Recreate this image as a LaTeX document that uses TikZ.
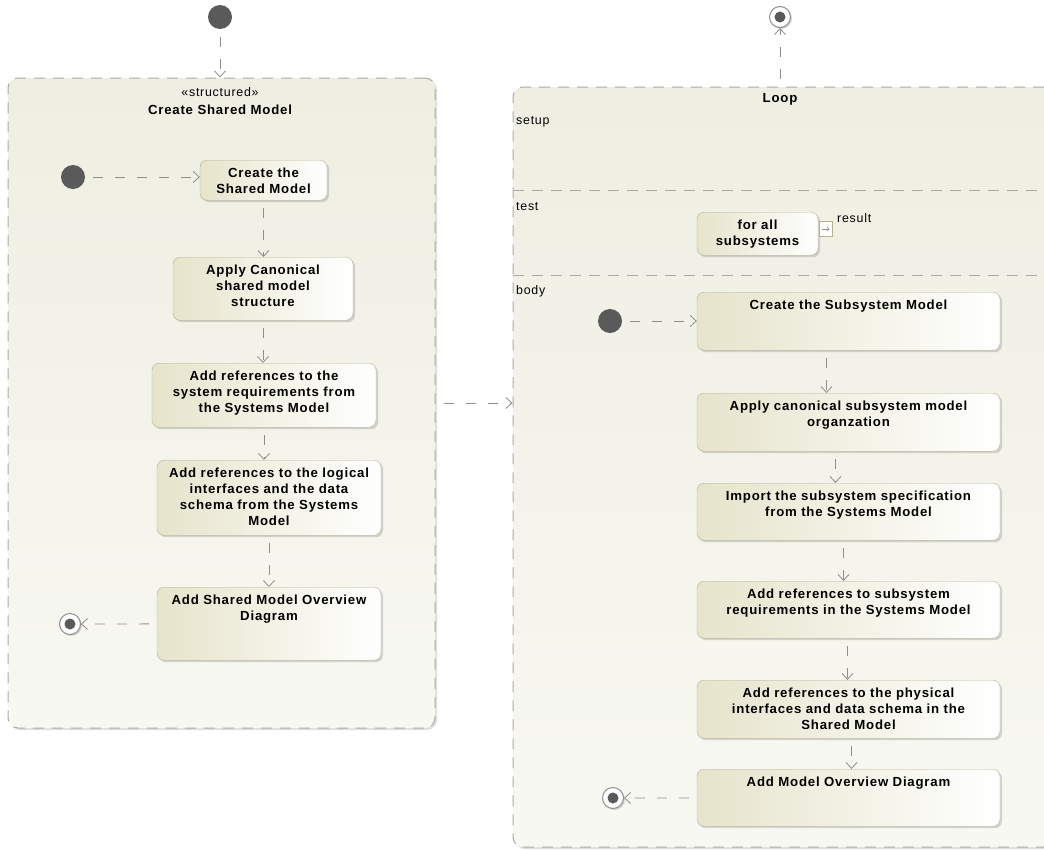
\documentclass[tikz,border=0pt]{standalone}
\usepackage{fontspec}
\setmainfont{Liberation Sans}
\newfontfamily\umlfont[LetterSpace=6]{Liberation Sans}
\usetikzlibrary{arrows.meta,shadows}

\definecolor{actline}{HTML}{B4B28F}
\definecolor{actfill}{HTML}{E6E4CB}
\definecolor{conttop}{HTML}{EFEEE2}
\definecolor{contbot}{HTML}{F8F8F3}
\definecolor{contline}{HTML}{ABABA6}
\definecolor{flowc}{HTML}{8E8E8E}
\definecolor{initc}{HTML}{5A5A5A}

\begin{document}
\begin{tikzpicture}[x=1pt,y=-1pt,
    act/.style={draw=actline,rounded corners=7pt,left color=actfill,right color=white,
      drop shadow={shadow xshift=2pt,shadow yshift=-2pt,opacity=.3},
      font=\umlfont\bfseries\fontsize{13.2}{16}\selectfont,
      align=center,anchor=north,inner xsep=4pt,inner ysep=8pt,text height=9.5pt},
    cont/.style={draw=contline,line width=1pt,dash pattern=on 11pt off 8pt,rounded corners=10pt,
      top color=conttop,bottom color=contbot,inner sep=0pt,
      drop shadow={shadow xshift=2pt,shadow yshift=-2pt,opacity=.25}},
    init/.style={circle,fill=initc,minimum size=24pt,inner sep=0pt},
    fin/.style={circle,draw=flowc,line width=1pt,fill=white,minimum size=21pt,inner sep=0pt,
      drop shadow={shadow xshift=1.5pt,shadow yshift=-1.5pt,opacity=.3},
      path picture={\fill[initc] (path picture bounding box.center) circle (5.5pt);}},
    outpin/.style={draw=actline,fill=white,minimum width=13pt,minimum height=15pt,inner sep=0pt},
    flow/.style={draw=flowc,line width=.8pt,dash pattern=on 10pt off 12pt,dash phase=14pt,
      -{Straight Barb[length=6pt,width=11pt]}},
    lanesep/.style={draw=contline,line width=1pt,dash pattern=on 11pt off 8pt},
    lbl/.style={font=\umlfont\fontsize{12.4}{14}\selectfont,inner sep=0pt},
    ttl/.style={font=\umlfont\bfseries\fontsize{13.2}{15}\selectfont,inner sep=0pt}]

  \path[use as bounding box,fill=white] (0,0) rectangle (1044,849);
  \clip (0,0) rectangle (1044,849);

  % the two activity regions
  \node[cont,minimum width=427pt,minimum height=650pt] (lbox) at (221.5,403) {};
  \node[cont,minimum width=560pt,minimum height=760pt] (loop) at (793,467) {};
  \draw[lanesep] (513,190) -- (1070,190);
  \draw[lanesep] (513,275) -- (1070,275);

  \node[lbl] (stereo) at (220,92) {«structured»};
  \node[ttl] (lname) at (220,110) {Create Shared Model};
  \node[ttl] (loopname) at (780,99) {Loop};
  \node[lbl,anchor=west] (setup) at (516,122) {setup};
  \node[lbl,anchor=west] (test) at (516,207) {test};
  \node[lbl,anchor=west] (body) at (516,291) {body};

  % shared model actions
  \node[act,text width=119pt,text depth=14.5pt] (csm) at (263.5,160) {Create the\\Shared Model};
  \node[act,text width=172pt,text depth=37.5pt] (apply) at (263,257) {Apply Canonical\\shared model\\structure};
  \node[act,text width=216pt,text depth=38.5pt] (sysreq) at (264,363) {Add references to the\\system requirements from\\the Systems Model};
  \node[act,text width=216pt,text depth=49.5pt] (logic) at (269,460) {Add references to the logical\\interfaces and the data\\schema from the Systems\\Model};
  \node[act,text width=216pt,text depth=47.5pt] (shov) at (269,587) {Add Shared Model Overview\\Diagram};

  % loop test
  \node[act,text width=113pt,text depth=17.5pt] (forall) at (757.5,212) {for all\\subsystems};
  \node[outpin] (respin) at (825.5,229) {};
  \draw[flowc,line width=.6pt,-{Straight Barb[length=2pt,width=4pt]}] ([xshift=-4pt]respin.center) -- ([xshift=4pt]respin.center);
  \node[lbl,anchor=west] (result) at (837,218) {result};

  % loop body actions
  \node[act,text width=295pt,text depth=32.5pt] (subm) at (848.5,292) {Create the Subsystem Model};
  \node[act,text width=295pt,text depth=32.5pt] (canon) at (848.5,393) {Apply canonical subsystem model\\organzation};
  \node[act,text width=295pt,text depth=31.5pt] (import) at (848.5,483) {Import the subsystem specification\\from the Systems Model};
  \node[act,text width=295pt,text depth=31.5pt] (subreq) at (848.5,581) {Add references to subsystem\\requirements in the Systems Model};
  \node[act,text width=295pt,text depth=32.5pt] (phys) at (848.5,680) {Add references to the physical\\interfaces and data schema in the\\Shared Model};
  \node[act,text width=295pt,text depth=31.5pt] (movr) at (848.5,769) {Add Model Overview Diagram};

  % initial and final nodes
  \node[init] (init0) at (220,17) {};
  \node[init] (init1) at (73,177) {};
  \node[init] (init2) at (610,321) {};
  \node[fin] (fin0) at (780,17) {};
  \node[fin] (fin1) at (70,624) {};
  \node[fin] (fin2) at (613,798) {};

  % control flows
  \draw[flow] (init0) -- (init0 |- lbox.north);
  \draw[flow] (init1) -- (init1 -| csm.west);
  \foreach \a/\b in {csm/apply,apply/sysreq,sysreq/logic,logic/shov}
    \draw[flow] (\a.south) -- (\a.south |- \b.north);
  \draw[flow] (shov) -- (fin1);
  \draw[flow] (lbox.east) -- (lbox.east -| loop.west);
  \draw[flow] (fin0 |- loop.north) -- (fin0);
  \draw[flow] (init2) -- (init2 -| subm.west);
  \foreach \a/\b/\dx in {subm/canon/-22,canon/import/-13,import/subreq/-5,subreq/phys/-1,phys/movr/3}
    \draw[flow] ([xshift=\dx pt]\a.south) -- ([xshift=\dx pt]\a.south |- \b.north);
  \draw[flow] (movr) -- (fin2);

\end{tikzpicture}
\end{document}
